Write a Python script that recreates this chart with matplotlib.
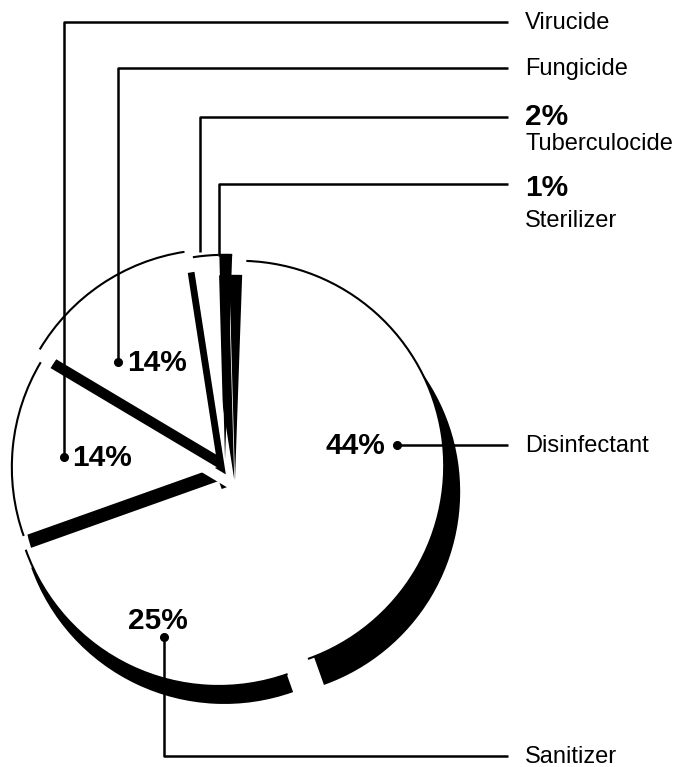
import matplotlib
matplotlib.use("Agg")
import matplotlib.pyplot as plt
from matplotlib.patches import Arc

# ---------------- data ----------------
categories = ['Disinfectant', 'Sanitizer', 'Virucide', 'Fungicide', 'Tuberculocide', 'Sterilizer']
shares = [44, 25, 14, 14, 2, 1]

# ---------------- styling ----------------
W, H = 674, 767
explode_frac = [0.07, 0.07, 0.04, 0.08, 0.04, 0.04]
face = ['white', 'white', 'white', 'white', 'white', 'black']
shadow_off = [(16, 26), (5.5, 18), (10, 20), (10, 20), (10, 20), (10, 20)]  # px (right, down)
cx, cy, R = 225, 468, 205  # pixel coords (y down)
explode = [e * R for e in explode_frac]

def Y(p):
    return H - p

plt.rcParams['font.family'] = ['Liberation Sans', 'DejaVu Sans']
fig = plt.figure(figsize=(W / 100, H / 100), dpi=100)
ax = fig.add_axes([0, 0, 1, 1])

# shadow layer
sh, _ = ax.pie(shares, explode=explode, startangle=88, counterclock=False,
               colors=['black'] * len(shares), center=(cx, Y(cy)), radius=R,
               wedgeprops=dict(linewidth=0))
for s, (dx, dy) in zip(sh, shadow_off):
    c = s.center
    s.set_center((c[0] + dx, c[1] - dy))

# face layer
wd, _ = ax.pie(shares, explode=explode, startangle=88, counterclock=False,
               colors=face, center=(cx, Y(cy)), radius=R,
               wedgeprops=dict(linewidth=0))
for w in wd:
    ax.add_patch(Arc(w.center, 2 * w.r, 2 * w.r, theta1=w.theta1, theta2=w.theta2,
                     color='black', lw=1.5, zorder=5))

ax.set_xlim(0, W)
ax.set_ylim(0, H)
ax.set_aspect('equal')
ax.axis('off')

lw = 1.8
line_end = 508
name_x = 525
fs_name = 17
fs_pct = 21.5

def leader(points, dot=True):
    xs = [p[0] for p in points]
    ys = [Y(p[1]) for p in points]
    ax.plot(xs, ys, color='black', lw=lw, solid_capstyle='butt', zorder=6)
    if dot:
        ax.plot(xs[0], ys[0], 'o', color='black', ms=5.5, zorder=7)

pct = {c: f"{v}%" for c, v in zip(categories, shares)}

# Virucide
leader([(64, 457), (64, 22), (line_end, 22)])
ax.text(72, Y(458), pct['Virucide'], fontsize=fs_pct, fontweight='bold', ha='left', va='center')
ax.text(name_x, Y(23), 'Virucide', fontsize=fs_name, ha='left', va='center')

# Fungicide
leader([(118, 362), (118, 68), (line_end, 68)])
ax.text(127, Y(363), pct['Fungicide'], fontsize=fs_pct, fontweight='bold', ha='left', va='center')
ax.text(name_x, Y(69), 'Fungicide', fontsize=fs_name, ha='left', va='center')

# Tuberculocide
leader([(200, 252), (200, 117), (line_end, 117)], dot=False)
ax.text(name_x, Y(117), pct['Tuberculocide'], fontsize=fs_pct, fontweight='bold', ha='left', va='center')
ax.text(name_x, Y(144), 'Tuberculocide', fontsize=fs_name, ha='left', va='center')

# Sterilizer
leader([(219, 256), (219, 184), (line_end, 184)], dot=False)
ax.text(name_x, Y(188), pct['Sterilizer'], fontsize=fs_pct, fontweight='bold', ha='left', va='center')
ax.text(name_x, Y(221), 'Sterilizer', fontsize=fs_name, ha='left', va='center')

# Disinfectant
leader([(397, 445), (line_end, 445)])
ax.text(385, Y(446), pct['Disinfectant'], fontsize=fs_pct, fontweight='bold', ha='right', va='center')
ax.text(name_x, Y(446), 'Disinfectant', fontsize=fs_name, ha='left', va='center')

# Sanitizer
leader([(164, 637), (164, 756), (line_end, 756)])
ax.text(158, Y(621), pct['Sanitizer'], fontsize=fs_pct, fontweight='bold', ha='center', va='center')
ax.text(name_x, Y(757), 'Sanitizer', fontsize=fs_name, ha='left', va='center')

fig.savefig('out.png', dpi=100, facecolor='white')
